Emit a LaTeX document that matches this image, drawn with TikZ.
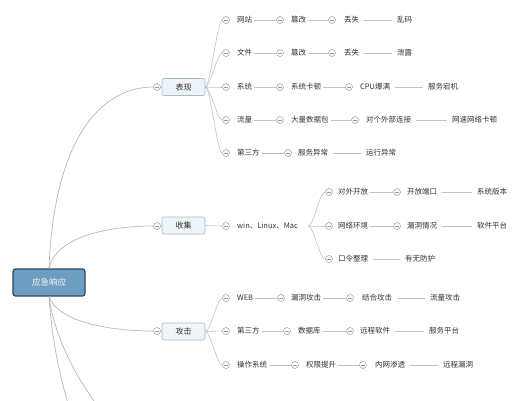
\documentclass[tikz,border=0pt]{standalone}
\usepackage{fontspec}
\newfontfamily\cjk{Noto Sans CJK SC}
\definecolor{lc}{HTML}{B9C5CD}
\definecolor{rc}{HTML}{AEBBC4}
\definecolor{bc}{HTML}{9A9A9A}
\definecolor{tc}{HTML}{333333}
\definecolor{boxf}{HTML}{EEF4F8}
\definecolor{boxd}{HTML}{A9B9C6}
\definecolor{rootf}{HTML}{6D9DBF}
\definecolor{rootd}{HTML}{2E4A5C}
\tikzset{
  lnk/.style={draw=lc, line width=0.6pt},
  rlnk/.style={draw=rc, line width=0.7pt},
  llnk/.style={draw=lc, line width=0.6pt, shorten <=3pt, shorten >=3pt},
  btn/.style={circle, draw=bc, fill=white, minimum size=7pt, inner sep=0pt, line width=0.5pt,
    path picture={\draw[bc, line width=0.5pt] ([xshift=1.6pt]path picture bounding box.west) -- ([xshift=-1.6pt]path picture bounding box.east);}},
  lab/.style={anchor=west, inner sep=2pt, font=\cjk\fontsize{7.5}{9}\selectfont, text=tc},
  topic/.style={draw=boxd, fill=boxf, rounded corners=2pt, minimum width=43pt, minimum height=17pt, inner sep=0pt, line width=0.6pt, font=\cjk\fontsize{8}{9}\selectfont, text=tc},
  rootbox/.style={draw=rootd, fill=rootf, rounded corners=2.5pt, minimum width=72pt, minimum height=27pt, inner sep=0pt, line width=1.2pt, font=\cjk\fontsize{8.5}{10}\selectfont, text=white}
}
\begin{document}
\begin{tikzpicture}[x=1pt, y=-1pt]
\useasboundingbox (0,0) rectangle (527,400);
\clip (0,0) rectangle (527,400);
\fill[white] (0,0) rectangle (527,400);

% root
\node[rootbox] (root) at (49,282.5) {应急响应};
\coordinate (offa) at (80,440);
\coordinate (offb) at (125,440);

% level 1
\node[btn] (c1a) at (157,87) {};
\node[topic] (t1a) at (183.5,87) {表现};
\node[btn] (c1b) at (157,226) {};
\node[topic] (t1b) at (183.5,225.5) {收集};
\node[btn] (c1c) at (157,331) {};
\node[topic] (t1c) at (183.5,331.5) {攻击};

\draw[rlnk] (root.north) .. controls (54,140) and (100,87) .. (c1a.west);
\draw[rlnk] (root.north) .. controls (56,236) and (110,226) .. (c1b.west);
\draw[rlnk] (root.south) .. controls (58,322) and (110,331) .. (c1c.west);
\draw[rlnk] (root.south) .. controls (52,340) and (60,385) .. (offa);
\draw[rlnk] (root.south) .. controls (55,340) and (80,390) .. (offb);
\draw[lnk] (c1a.east) -- (t1a.west);
\draw[lnk] (c1b.east) -- (t1b.west);
\draw[lnk] (c1c.east) -- (t1c.west);

% ===== 表现 =====
\node[btn] (p1a) at (226,20) {}; \node[lab] (p1b) at (235,20) {网站};
\node[btn] (p1c) at (280,20) {}; \node[lab] (p1d) at (289,20) {篡改};
\node[btn] (p1e) at (332,20) {}; \node[lab] (p1f) at (342,20) {丢失};
\node[lab] (p1g) at (395,20) {乱码};

\node[btn] (p2a) at (226,53) {}; \node[lab] (p2b) at (235,53) {文件};
\node[btn] (p2c) at (280,53) {}; \node[lab] (p2d) at (289,53) {篡改};
\node[btn] (p2e) at (332,53) {}; \node[lab] (p2f) at (342,53) {丢失};
\node[lab] (p2g) at (395,53) {泄露};

\node[btn] (p3a) at (226,87) {}; \node[lab] (p3b) at (235,87) {系统};
\node[btn] (p3c) at (280,87) {}; \node[lab] (p3d) at (289,87) {系统卡顿};
\node[btn] (p3e) at (349,87) {}; \node[lab] (p3f) at (358,87) {CPU爆满};
\node[lab] (p3g) at (426,87) {服务宕机};

\node[btn] (p4a) at (226,120) {}; \node[lab] (p4b) at (235,120) {流量};
\node[btn] (p4c) at (280,120) {}; \node[lab] (p4d) at (289,120) {大量数据包};
\node[btn] (p4e) at (355,120) {}; \node[lab] (p4f) at (364,120) {对个外部连接};
\node[lab] (p4g) at (450,120) {网速网络卡顿};

\node[btn] (p5a) at (226,153) {}; \node[lab] (p5b) at (235,153) {第三方};
\node[btn] (p5c) at (288,153) {}; \node[lab] (p5d) at (296,153) {服务异常};
\node[lab] (p5f) at (364,153) {运行异常};

\foreach \r in {1,...,5}{
  \draw[lnk] (t1a.east) .. controls +(5,0) and +(-5,0) .. (p\r a.west);
  \draw[lnk] (p\r b.east) -- (p\r c.west);
}
\foreach \r in {1,...,4}{
  \draw[lnk] (p\r d.east) -- (p\r e.west);
  \draw[llnk] (p\r f.east) -- (p\r g.west);
}
\draw[llnk] (p5d.east) -- (p5f.west);

% ===== 收集 =====
\node[btn] (q0a) at (226,226) {}; \node[lab] (q0b) at (235,226) {win、Linux、Mac};
\coordinate (fork) at (308,226);
\draw[lnk] (t1b.east) -- (q0a.west);

\node[btn] (q1a) at (329,192) {}; \node[lab] (q1b) at (336,192) {对外开放};
\node[btn] (q1c) at (397,192) {}; \node[lab] (q1d) at (405,192) {开放端口};
\node[lab] (q1e) at (475,192) {系统版本};

\node[btn] (q2a) at (329,226) {}; \node[lab] (q2b) at (336,226) {网络环境};
\node[btn] (q2c) at (397,226) {}; \node[lab] (q2d) at (405,226) {漏洞情况};
\node[lab] (q2e) at (475,226) {软件平台};

\node[btn] (q3a) at (329,259) {}; \node[lab] (q3b) at (336,259) {口令整理};
\node[lab] (q3d) at (403,259) {有无防护};

\foreach \r in {1,2,3}{
  \draw[lnk] (fork) .. controls +(6,0) and +(-6,0) .. (q\r a.west);
}
\foreach \r in {1,2}{
  \draw[lnk] (q\r b.east) -- (q\r c.west);
  \draw[llnk] (q\r d.east) -- (q\r e.west);
}
\draw[llnk] (q3b.east) -- (q3d.west);

% ===== 攻击 =====
\node[btn] (r1a) at (226,298) {}; \node[lab] (r1b) at (235,298) {WEB};
\node[btn] (r1c) at (281,298) {}; \node[lab] (r1d) at (289,298) {漏洞攻击};
\node[btn] (r1e) at (350,298) {}; \node[lab] (r1f) at (360,298) {结合攻击};
\node[lab] (r1g) at (428,298) {流量攻击};

\node[btn] (r2a) at (226,331) {}; \node[lab] (r2b) at (235,331) {第三方};
\node[btn] (r2c) at (287,331) {}; \node[lab] (r2d) at (296,331) {数据库};
\node[btn] (r2e) at (350,331) {}; \node[lab] (r2f) at (358,331) {远程软件};
\node[lab] (r2g) at (427,331) {服务平台};

\node[btn] (r3a) at (226,365) {}; \node[lab] (r3b) at (235,365) {操作系统};
\node[btn] (r3c) at (295,365) {}; \node[lab] (r3d) at (304,365) {权限提升};
\node[btn] (r3e) at (363,365) {}; \node[lab] (r3f) at (373,365) {内网渗透};
\node[lab] (r3g) at (441,365) {远程漏洞};

\foreach \r in {1,2,3}{
  \draw[lnk] (t1c.east) .. controls +(5,0) and +(-5,0) .. (r\r a.west);
  \draw[lnk] (r\r b.east) -- (r\r c.west);
  \draw[lnk] (r\r d.east) -- (r\r e.west);
  \draw[llnk] (r\r f.east) -- (r\r g.west);
}
\end{tikzpicture}
\end{document}
